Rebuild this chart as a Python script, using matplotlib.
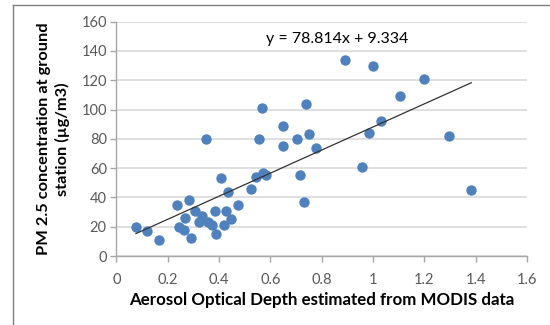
import matplotlib
matplotlib.use("Agg")
import numpy as np
import matplotlib.pyplot as plt
from matplotlib.lines import Line2D

# data
x_aod = [0.076, 0.118, 0.167, 0.235, 0.242, 0.263, 0.266, 0.284, 0.292, 0.306,
         0.323, 0.332, 0.349, 0.358, 0.371, 0.388, 0.384, 0.406, 0.419, 0.427,
         0.436, 0.448, 0.475, 0.523, 0.543, 0.554, 0.566, 0.572, 0.582, 0.648,
         0.648, 0.703, 0.715, 0.738, 0.731, 0.750, 0.778, 0.891, 0.999, 0.958,
         0.986, 1.031, 1.105, 1.200, 1.296, 1.383]
y_pm = [20, 17, 11, 35, 20, 18, 26, 38, 12, 31,
        23, 27, 80, 23, 21, 15, 31, 53, 21, 31,
        44, 25, 35, 46, 54, 80, 101, 57, 55, 89,
        75, 80, 55, 104, 37, 83, 74, 134, 130, 61,
        84, 92, 109, 121, 82, 45]

slope = 78.814
intercept = 9.334
x_ticks = [0, 0.2, 0.4, 0.6, 0.8, 1, 1.2, 1.4, 1.6]
x_tick_labels = ["0", "0.2", "0.4", "0.6", "0.8", "1", "1.2", "1.4", "1.6"]
y_ticks = [0, 20, 40, 60, 80, 100, 120, 140, 160]

plt.rcParams['font.family'] = ['Lato', 'DejaVu Sans']

fig = plt.figure(figsize=(5.5, 3.25), dpi=100)
ax = fig.add_axes([0.2118, 0.2123, 0.7464, 0.7209])

ax.scatter(x_aod, y_pm, s=56, color="#4F81BD", zorder=3, linewidths=0)

# linear trendline over the data range
xs = np.array([min(x_aod), max(x_aod)])
ax.plot(xs, slope * xs + intercept, color="#333333", linewidth=0.9, zorder=4)
ax.text(0.86, 148.5, f"y = {slope}x + {intercept}", fontsize=11.5,
        ha="center", va="center", color="black")

ax.set_xlim(0, 1.6)
ax.set_ylim(0, 160)
ax.set_xticks(x_ticks)
ax.set_xticklabels(x_tick_labels)
ax.set_yticks(y_ticks)

ax.grid(axis="y", color="#d9d9d9", linewidth=1.2, zorder=0)
ax.set_axisbelow(True)
for side in ["top", "right"]:
    ax.spines[side].set_visible(False)
for side in ["left", "bottom"]:
    ax.spines[side].set_color("#a6a6a6")
    ax.spines[side].set_linewidth(1.0)
ax.tick_params(axis="both", direction="out", length=4, width=1.0,
               color="#a6a6a6", labelsize=10.5, labelcolor="#595959")
ax.tick_params(axis="x", pad=8)
ax.tick_params(axis="y", pad=3)

ax.set_xlabel("Aerosol Optical Depth estimated from MODIS data",
              fontsize=12.2, fontweight="bold", labelpad=4)
ax.set_ylabel("PM 2.5 concentration at ground\nstation (\u00b5g/m3)",
              fontsize=11.8, fontweight="bold", labelpad=8, linespacing=1.3)

# chart border (cropped picture)
bx = 12.7 / 550
by = 1 - 5 / 325
fig.add_artist(Line2D([bx, bx], [0, by], transform=fig.transFigure,
                      color="#7f7f7f", linewidth=1.0))
fig.add_artist(Line2D([bx, 1], [by, by], transform=fig.transFigure,
                      color="#7f7f7f", linewidth=1.0))

fig.savefig("out.png", dpi=100)
